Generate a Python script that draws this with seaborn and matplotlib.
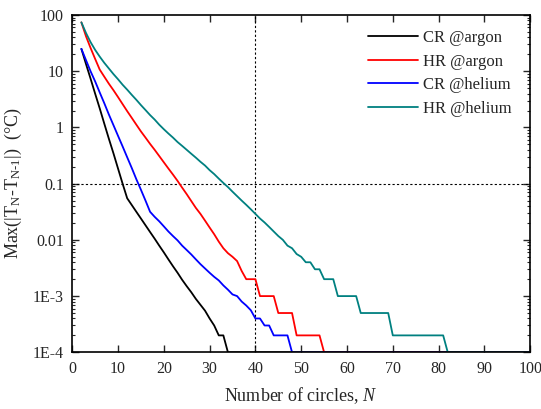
import numpy as np
import pandas as pd
import matplotlib
matplotlib.use("Agg")
import matplotlib.pyplot as plt
import matplotlib.ticker as mticker
import seaborn as sns

# ---- data ----
n_cr_argon = list(range(2, 35)) + [100]
cr_argon = [25, 13.5, 7.4, 4.0, 2.19, 1.17, 0.63, 0.347, 0.186, 0.1,
            0.055, 0.0417, 0.0316, 0.024, 0.0182, 0.0138, 0.0105, 0.0079,
            0.006, 0.0045, 0.0034, 0.0026, 0.00195, 0.0015, 0.00117,
            0.00089, 0.0007, 0.00055, 0.0004, 0.0003, 0.0002, 0.0002,
            0.0001, 0.0001]

n_hr_argon = list(range(2, 56)) + [100]
hr_argon = [74, 42, 26, 16.6, 10.7, 8.0, 6.0, 4.6, 3.47, 2.6, 1.95, 1.48,
            1.12, 0.85, 0.66, 0.51, 0.4, 0.31, 0.24, 0.186, 0.145, 0.112,
            0.085, 0.065, 0.049, 0.037, 0.029, 0.022, 0.0166, 0.0126,
            0.0093, 0.0071, 0.0058, 0.005, 0.0042, 0.0028,
            0.002, 0.002, 0.002,
            0.001, 0.001, 0.001, 0.001,
            0.0005, 0.0005, 0.0005, 0.0005,
            0.0002, 0.0002, 0.0002, 0.0002, 0.0002, 0.0002,
            0.0001, 0.0001]

n_cr_helium = list(range(2, 49)) + [100]
cr_helium = [25, 15.8, 10, 6.6, 4.2, 2.7, 1.7, 1.1, 0.71, 0.46, 0.295,
             0.19, 0.12, 0.078, 0.05, 0.0316, 0.0257, 0.0214, 0.0174,
             0.0141, 0.0117, 0.0098, 0.0079, 0.0066, 0.0055, 0.0045,
             0.0037, 0.0031, 0.0026, 0.0022, 0.0019, 0.00155, 0.0013,
             0.00107, 0.001, 0.0008, 0.00068, 0.00056,
             0.0004, 0.0004, 0.0003, 0.0003,
             0.0002, 0.0002, 0.0002, 0.0002,
             0.0001, 0.0001]

n_hr_helium = list(range(2, 83)) + [100]
hr_helium = [74, 48, 33, 24, 18.2, 14.1, 11.2, 8.9, 7.2, 5.75, 4.7, 3.8,
             3.1, 2.5, 2.04, 1.66, 1.38, 1.12, 0.93, 0.78, 0.66, 0.55,
             0.47, 0.40, 0.34, 0.29, 0.245, 0.21, 0.174, 0.148, 0.123,
             0.103, 0.087, 0.072, 0.06, 0.05, 0.042, 0.035, 0.029, 0.024,
             0.0204, 0.017, 0.0141, 0.0117, 0.01, 0.0079, 0.0071, 0.0056,
             0.005, 0.004, 0.004, 0.003, 0.003,
             0.002, 0.002, 0.002,
             0.001, 0.001, 0.001, 0.001, 0.001,
             0.0005, 0.0005, 0.0005, 0.0005, 0.0005, 0.0005, 0.0005,
             0.0002, 0.0002, 0.0002, 0.0002, 0.0002, 0.0002, 0.0002,
             0.0002, 0.0002, 0.0002, 0.0002, 0.0002,
             0.0001, 0.0001]

series_names = ["CR @argon", "HR @argon", "CR @helium", "HR @helium"]
series_colors = ["#000000", "#ff0000", "#0000ff", "#008080"]

y_ticks = [1e-4, 1e-3, 1e-2, 1e-1, 1, 10, 100]
y_tick_labels = ["1E-4", "1E-3", "0.01", "0.1", "1", "10", "100"]
x_ticks = [0, 10, 20, 30, 40, 50, 60, 70, 80, 90, 100]

# ---- build long-form table ----
frames = []
for name, n, v in zip(series_names,
                      [n_cr_argon, n_hr_argon, n_cr_helium, n_hr_helium],
                      [cr_argon, hr_argon, cr_helium, hr_helium]):
    frames.append(pd.DataFrame({"N": n, "value": v, "series": name}))
df = pd.concat(frames, ignore_index=True)

sns.set_style("ticks")
plt.rcParams["font.family"] = ["Liberation Serif", "DejaVu Serif"]
plt.rcParams["mathtext.fontset"] = "custom"
plt.rcParams["mathtext.rm"] = "Liberation Serif"
plt.rcParams["mathtext.it"] = "Liberation Serif:italic"

fig = plt.figure(figsize=(5.41, 4.09), dpi=100)
ax = fig.add_axes([0.1335, 0.1386, 0.8465, 0.8247])

sns.lineplot(data=df, x="N", y="value", hue="series",
             hue_order=series_names,
             palette=dict(zip(series_names, series_colors)),
             linewidth=1.3, ax=ax, estimator=None, sort=True)

ax.set_yscale("log")
ax.set_xlim(0, 100)
ax.set_ylim(1e-4, 100)

# reference dotted lines
ax.axvline(40, color="black", linestyle=(0, (2, 2)), linewidth=0.8, zorder=1)
ax.axhline(0.1, color="black", linestyle=(0, (2, 2)), linewidth=0.8, zorder=1)

ax.set_xticks(x_ticks)
ax.set_xticklabels([str(t) for t in x_ticks])
ax.yaxis.set_major_locator(mticker.FixedLocator(y_ticks))
ax.yaxis.set_major_formatter(mticker.FixedFormatter(y_tick_labels))
ax.yaxis.set_minor_locator(mticker.LogLocator(base=10, subs=np.arange(2, 10)))
ax.yaxis.set_minor_formatter(mticker.NullFormatter())

ax.tick_params(axis="both", which="major", direction="in", length=5,
               width=1, top=True, right=True, labelsize=11.5, pad=6)
ax.tick_params(axis="y", which="minor", direction="in", length=2.5,
               width=0.8, right=True, left=True)
ax.tick_params(axis="x", which="minor", bottom=False, top=False)

for s in ax.spines.values():
    s.set_linewidth(1.2)
    s.set_color("black")

ax.set_xlabel(r"Number of circles, $\mathit{N}$", fontsize=13, labelpad=6)
ax.set_ylabel("Max(|T$_\\mathregular{N}$\u2010T$_\\mathregular{N\u20101}$|)  (°C)",
              fontsize=13, labelpad=6)

leg = ax.legend(loc="upper right", frameon=False, fontsize=12,
                handlelength=3.0, handletextpad=0.3, labelspacing=0.45,
                borderaxespad=0.3, bbox_to_anchor=(0.985, 0.99))
for line in leg.get_lines():
    line.set_linewidth(1.3)

fig.savefig("out.png", dpi=100)
